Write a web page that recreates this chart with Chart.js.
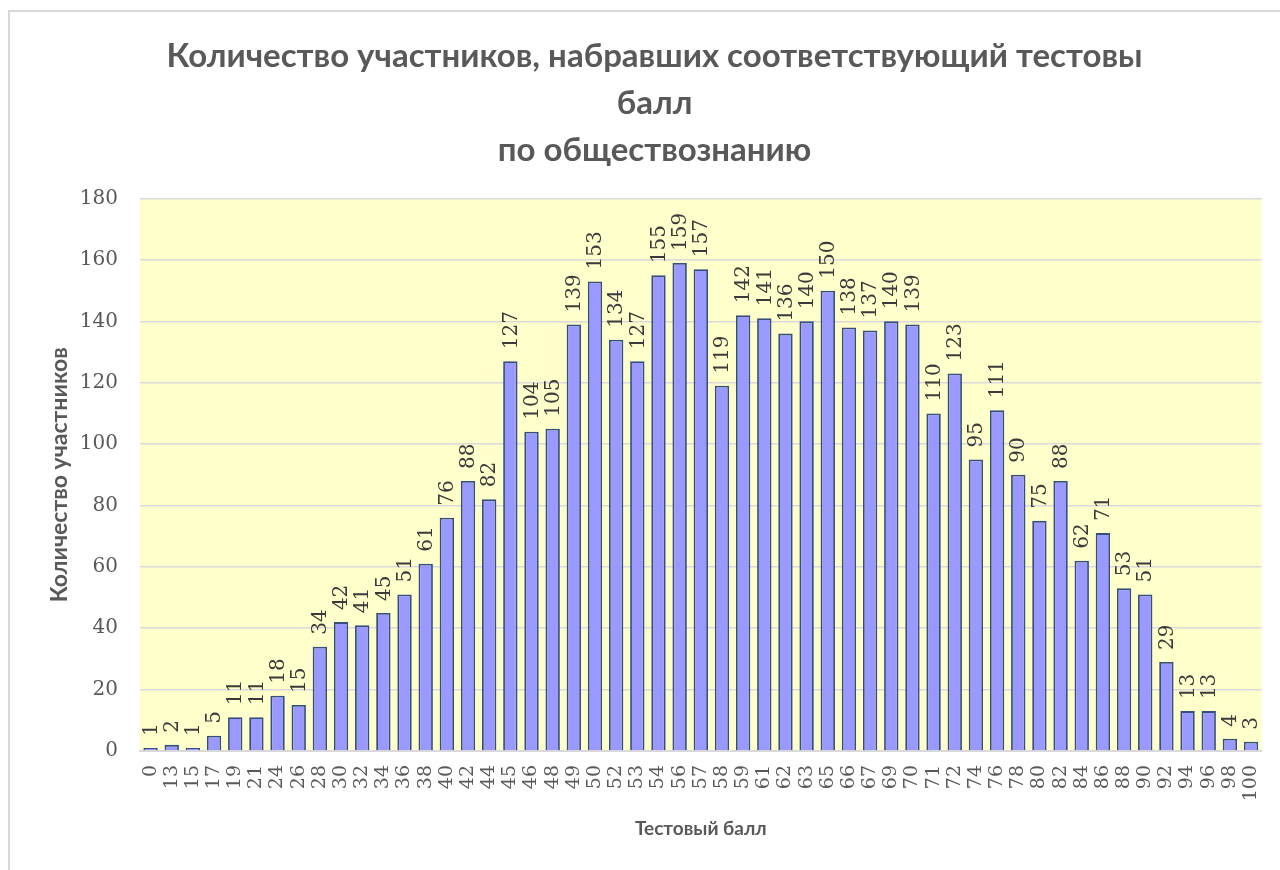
<!DOCTYPE html>
<html>
<head>
<meta charset="utf-8">
<script src="https://cdn.jsdelivr.net/npm/chart.js@4.4.1/dist/chart.umd.min.js"></script>
<style>
  html, body { margin: 0; padding: 0; background: #fff; }
  #wrap { width: 1280px; height: 870px; position: relative; }
</style>
</head>
<body>
<div id="wrap"><canvas id="scoreChart" width="1280" height="870"></canvas></div>
<script>
// data
const scores = ["0","13","15","17","19","21","24","26","28","30","32","34","36","38","40","42","44","45","46","48",
  "49","50","52","53","54","56","57","58","59","61","62","63","65","66","67","69","70","71","72","74",
  "76","78","80","82","84","86","88","90","92","94","96","98","100"];
const participants = [1,2,1,5,11,11,18,15,34,42,41,45,51,61,76,88,82,127,104,105,
  139,153,134,127,155,159,157,119,142,141,136,140,150,138,137,140,139,110,123,95,
  111,90,75,88,62,71,53,51,29,13,13,4,3];
const yTicks = [0, 20, 40, 60, 80, 100, 120, 140, 160, 180];

const titleLines = ["Количество участников, набравших соответствующий тестовы", "балл", "по обществознанию"];

// helper plugins
const frame = {
  id: "frame",
  beforeDraw(chart) {
    const { ctx, chartArea: a } = chart;
    ctx.save();
    ctx.fillStyle = "#fff";
    ctx.fillRect(0, 0, chart.width, chart.height);
    ctx.strokeStyle = "#d9d9d9";
    ctx.lineWidth = 2;
    ctx.beginPath();
    ctx.moveTo(9, chart.height);
    ctx.lineTo(9, 11);
    ctx.lineTo(chart.width, 11);
    ctx.stroke();
    ctx.fillStyle = "#ffffcc";
    ctx.fillRect(a.left, a.top, a.right - a.left, a.bottom - a.top);
    ctx.restore();
  },
};

const valueLabels = {
  id: "valueLabels",
  afterDatasetsDraw(chart) {
    const { ctx } = chart;
    const meta = chart.getDatasetMeta(0);
    ctx.save();
    ctx.fillStyle = "#3a3a3a";
    ctx.font = "20px 'DejaVu Serif'";
    ctx.textAlign = "left";
    ctx.textBaseline = "middle";
    meta.data.forEach((bar, i) => {
      ctx.save();
      ctx.translate(bar.x + 1, bar.y - 12);
      ctx.rotate(-Math.PI / 2);
      ctx.fillText(String(participants[i]), 0, 0);
      ctx.restore();
    });
    ctx.restore();
  },
};

new Chart(document.getElementById("scoreChart"), {
  type: "bar",
  data: {
    labels: scores,
    datasets: [
      {
        data: participants,
        backgroundColor: "#9999ff",
        borderColor: "#34507a",
        borderWidth: 1.8,
        barPercentage: 0.68,
        categoryPercentage: 1,
      },
    ],
  },
  options: {
    responsive: false,
    animation: false,
    layout: { padding: { left: 46, right: 17, top: 23, bottom: 10 } },
    plugins: {
      legend: { display: false },
      tooltip: { enabled: false },
      title: {
        display: true,
        text: titleLines,
        color: "#595959",
        font: { family: "Lato", size: 33, weight: "bold", lineHeight: 1.42 },
        padding: { top: 10, bottom: 25 },
      },
    },
    scales: {
      y: {
        min: 0,
        max: 180,
        afterBuildTicks: (s) => { s.ticks = yTicks.map((v) => ({ value: v })); },
        afterFit: (s) => { s.width = 94; },
        grid: { color: "#d9d9d9", lineWidth: 1.5, drawTicks: false },
        border: { display: false },
        ticks: { color: "#595959", padding: 22, font: { family: "DejaVu Serif", size: 20 } },
        title: {
          display: true,
          text: "Количество участников",
          color: "#595959",
          font: { family: "Lato", size: 23, weight: "bold" },
          padding: { top: 0, bottom: 0 },
        },
      },
      x: {
        afterFit: (s) => { s.height = 109; },
        grid: { display: false },
        border: { color: "#d9d9d9", width: 2 },
        ticks: {
          color: "#595959",
          autoSkip: false,
          maxRotation: 90,
          minRotation: 90,
          padding: 6,
          font: { family: "DejaVu Serif", size: 19 },
        },
        title: {
          display: true,
          text: "Тестовый балл",
          color: "#595959",
          font: { family: "Lato", size: 19, weight: "bold" },
          padding: { top: 0, bottom: 20 },
        },
      },
    },
  },
  plugins: [frame, valueLabels],
});
</script>
</body>
</html>
